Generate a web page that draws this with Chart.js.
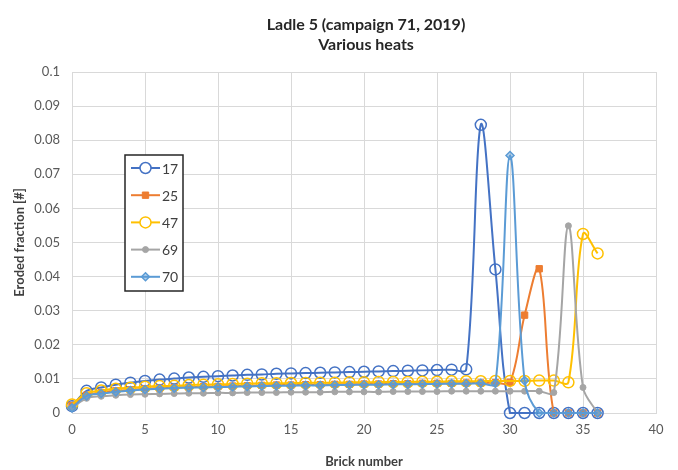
<!DOCTYPE html>
<html>
<head>
<meta charset="utf-8">
<script src="https://cdn.jsdelivr.net/npm/chart.js@4.4.1/dist/chart.umd.min.js"></script>
<style>
  html, body { margin: 0; padding: 0; background: #ffffff; }
  #wrap { width: 678px; height: 470px; }
</style>
</head>
<body>
<div id="wrap"><canvas id="c" width="678" height="470"></canvas></div>
<script>
// Brick positions along the ladle wall
const bricks = [0,1,2,3,4,5,6,7,8,9,10,11,12,13,14,15,16,17,18,19,20,21,22,23,24,25,26,27,28,29,30,31,32,33,34,35,36];

// Eroded fraction per brick, one list per heat
const heat17 = [0.0020,0.0065,0.0075,0.0083,0.0089,0.0094,0.0098,0.0101,0.0104,0.0106,0.0108,0.0110,0.0112,0.0113,0.0115,0.0116,0.0117,0.0118,0.0119,0.0120,0.0121,0.0122,0.0123,0.0124,0.0125,0.0126,0.0127,0.0128,0.0845,0.0421,0,0,0,0,0,0,0];
const heat25 = [0.0022,0.0052,0.0060,0.0065,0.0068,0.0071,0.0073,0.0075,0.0076,0.0077,0.0078,0.0079,0.0080,0.0081,0.0082,0.0082,0.0083,0.0083,0.0084,0.0084,0.0085,0.0085,0.0086,0.0086,0.0087,0.0087,0.0087,0.0088,0.0088,0.0089,0.0090,0.0287,0.0423,0,0,0,0];
const heat47 = [0.0025,0.0058,0.0066,0.0071,0.0074,0.0077,0.0079,0.0080,0.0082,0.0083,0.0084,0.0085,0.0086,0.0087,0.0087,0.0088,0.0088,0.0089,0.0089,0.0090,0.0090,0.0091,0.0091,0.0091,0.0092,0.0092,0.0093,0.0093,0.0093,0.0094,0.0094,0.0094,0.0095,0.0095,0.0090,0.0525,0.0468];
const heat69 = [0.0015,0.0043,0.0049,0.0052,0.0054,0.0055,0.0056,0.0057,0.0058,0.0058,0.0059,0.0059,0.0060,0.0060,0.0060,0.0061,0.0061,0.0061,0.0062,0.0062,0.0062,0.0062,0.0063,0.0063,0.0063,0.0063,0.0064,0.0064,0.0064,0.0064,0.0064,0.0064,0.0064,0.0060,0.0549,0.0075,0];
const heat70 = [0.0015,0.0050,0.0057,0.0062,0.0066,0.0069,0.0071,0.0073,0.0074,0.0075,0.0076,0.0077,0.0078,0.0079,0.0080,0.0080,0.0081,0.0081,0.0082,0.0082,0.0083,0.0083,0.0084,0.0084,0.0085,0.0085,0.0086,0.0086,0.0087,0.0087,0.0755,0.0095,0,0,0,0,0];

const heatLabels = ['17', '25', '47', '69', '70'];
const xTicks = [0, 5, 10, 15, 20, 25, 30, 35, 40];
const yTicks = [0, 0.01, 0.02, 0.03, 0.04, 0.05, 0.06, 0.07, 0.08, 0.09, 0.1];

const titleLines = ['Ladle 5 (campaign 71, 2019)', 'Various heats'];

const FONT = 'Lato, "Liberation Sans", sans-serif';
const TEXT = '#595959';

function pts(values) {
  return bricks.map((b, i) => ({ x: b, y: values[i] }));
}

const styles = [
  { color: '#4472C4', pointStyle: 'circle', radius: 5.5, fill: 'rgba(255,255,255,0)', pbw: 1.5 },
  { color: '#ED7D31', pointStyle: 'rect', radius: 4.5, fill: '#ED7D31', pbw: 1 },
  { color: '#FFC000', pointStyle: 'circle', radius: 5.5, fill: 'rgba(255,255,255,0)', pbw: 1.5 },
  { color: '#A5A5A5', pointStyle: 'circle', radius: 3, fill: '#A5A5A5', pbw: 1 },
  { color: '#5B9BD5', pointStyle: 'rectRot', radius: 4, fill: 'rgba(91,155,213,0.45)', pbw: 1.5 }
];
const seriesValues = [heat17, heat25, heat47, heat69, heat70];

const datasets = seriesValues.map((vals, i) => ({
  label: heatLabels[i],
  data: pts(vals),
  borderColor: styles[i].color,
  backgroundColor: styles[i].fill,
  borderWidth: 2,
  pointStyle: styles[i].pointStyle,
  pointRadius: styles[i].radius,
  pointBorderColor: styles[i].color,
  pointBackgroundColor: styles[i].fill,
  pointBorderWidth: styles[i].pbw,
  tension: 0.35,
  clip: false,
  order: seriesValues.length - i
}));

// Two-line bold heading centred over the plot area
const headingPlugin = {
  id: 'heading',
  afterDraw(chart) {
    const ctx = chart.ctx;
    const area = chart.chartArea;
    const cx = (area.left + area.right) / 2 + 2;
    ctx.save();
    ctx.fillStyle = '#262626';
    ctx.font = 'bold 16px ' + FONT;
    ctx.textAlign = 'center';
    ctx.textBaseline = 'middle';
    ctx.fillText(titleLines[0], cx, 25);
    ctx.fillText(titleLines[1], cx, 45);
    ctx.restore();
  }
};

// Boxed legend placed inside the plot area
const boxLegendPlugin = {
  id: 'boxLegend',
  afterDraw(chart) {
    const ctx = chart.ctx;
    const left = 125, top = 155, w = 58, h = 136;
    ctx.save();
    ctx.fillStyle = '#ffffff';
    ctx.fillRect(left, top, w, h);
    ctx.strokeStyle = '#262626';
    ctx.lineWidth = 1.5;
    ctx.strokeRect(left, top, w, h);
    chart.data.datasets.forEach((ds, i) => {
      const y = 168 + i * 27.2;
      ctx.strokeStyle = ds.borderColor;
      ctx.lineWidth = 2;
      ctx.beginPath();
      ctx.moveTo(131, y);
      ctx.lineTo(160, y);
      ctx.stroke();
      ctx.fillStyle = ds.pointBackgroundColor;
      ctx.strokeStyle = ds.pointBorderColor;
      ctx.lineWidth = ds.pointBorderWidth;
      if (ds.pointBackgroundColor.indexOf('rgba(255,255,255,0)') === 0) {
        ctx.fillStyle = '#ffffff';
      }
      Chart.helpers.drawPoint(ctx, {
        pointStyle: ds.pointStyle,
        radius: ds.pointRadius,
        rotation: 0,
        borderWidth: ds.pointBorderWidth
      }, 145.5, y);
      ctx.fillStyle = '#404040';
      ctx.font = '14px ' + FONT;
      ctx.textAlign = 'left';
      ctx.textBaseline = 'middle';
      ctx.fillText(ds.label, 162, y + 1);
    });
    ctx.restore();
  }
};

new Chart(document.getElementById('c'), {
  type: 'line',
  data: { datasets },
  options: {
    responsive: false,
    animation: false,
    devicePixelRatio: 1,
    layout: { padding: { top: 72, right: 22, bottom: 0, left: 0 } },
    plugins: {
      legend: { display: false },
      title: { display: false },
      tooltip: { enabled: false }
    },
    scales: {
      x: {
        type: 'linear',
        min: 0,
        max: 40,
        afterFit(scale) { scale.height = 57; },
        afterBuildTicks(scale) { scale.ticks = xTicks.map(v => ({ value: v })); },
        grid: { color: '#d9d9d9', lineWidth: 1, drawTicks: false },
        border: { color: '#d9d9d9' },
        ticks: { color: TEXT, font: { family: FONT, size: 13 }, padding: 9 },
        title: {
          display: true,
          text: 'Brick number',
          color: '#404040',
          font: { family: FONT, size: 13, weight: 'bold' },
          padding: { top: 12, bottom: 0 }
        }
      },
      y: {
        type: 'linear',
        min: 0,
        max: 0.1,
        afterFit(scale) { scale.width = 72; },
        afterBuildTicks(scale) { scale.ticks = yTicks.map(v => ({ value: v })); },
        grid: { color: '#d9d9d9', lineWidth: 1, drawTicks: false },
        border: { color: '#d9d9d9' },
        ticks: {
          color: TEXT,
          font: { family: FONT, size: 13 },
          padding: 12,
          callback: v => String(Number(v.toFixed(2)))
        },
        title: {
          display: true,
          text: 'Eroded fraction [#]',
          color: '#404040',
          font: { family: FONT, size: 13, weight: 'bold' },
          padding: { top: 12, bottom: 0 }
        }
      }
    }
  },
  plugins: [headingPlugin, boxLegendPlugin]
});
</script>
</body>
</html>
